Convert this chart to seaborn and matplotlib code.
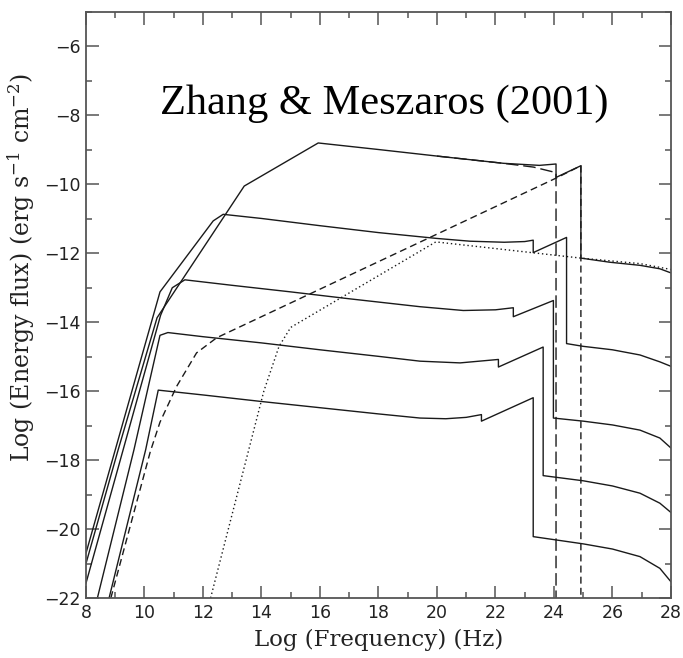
import numpy as np
import matplotlib
matplotlib.use("Agg")
import matplotlib.pyplot as plt
from matplotlib.ticker import MultipleLocator
import seaborn as sns

# --- data (log nu, log nuF_nu) ---
# total spectra, one per parameter set (top to bottom)
x1 = [8.0, 9.1, 10.43, 13.41, 15.94, 18.0, 20.0, 22.27, 23.5, 24.07, 24.07, 24.92, 24.92, 25.91, 26.94, 27.62, 28.0]
y1 = [-21.0, -17.7, -13.87, -10.05, -8.8, -8.99, -9.18, -9.39, -9.45, -9.41, -9.8, -9.46, -12.14, -12.26, -12.35, -12.45, -12.57]

x2 = [8.0, 10.53, 12.35, 12.69, 14.0, 16.0, 18.0, 20.0, 21.13, 22.3, 23.0, 23.29, 23.29, 24.43, 24.43, 25.0, 26.0, 26.94, 27.62, 28.0]
y2 = [-20.7, -13.12, -11.06, -10.87, -10.99, -11.2, -11.4, -11.57, -11.65, -11.68, -11.66, -11.62, -11.98, -11.54, -14.62, -14.7, -14.8, -14.95, -15.15, -15.28]

x3 = [8.0, 10.55, 10.95, 11.38, 13.0, 15.0, 17.0, 19.42, 20.9, 22.0, 22.61, 22.61, 23.98, 23.98, 25.0, 26.0, 26.94, 27.62, 28.0]
y3 = [-21.57, -13.8, -13.0, -12.77, -12.93, -13.12, -13.32, -13.55, -13.66, -13.64, -13.58, -13.84, -13.37, -16.78, -16.87, -16.98, -17.13, -17.36, -17.65]

x4 = [8.39, 9.64, 10.53, 10.8, 12.0, 14.0, 16.0, 18.0, 19.42, 20.79, 22.1, 22.1, 23.63, 23.63, 25.0, 26.0, 26.94, 27.62, 28.0]
y4 = [-22.0, -17.7, -14.38, -14.3, -14.42, -14.6, -14.8, -14.99, -15.13, -15.18, -15.08, -15.3, -14.72, -18.45, -18.6, -18.75, -18.96, -19.25, -19.52]

x5 = [8.79, 10.04, 10.47, 12.0, 14.0, 16.0, 18.0, 19.42, 20.3, 21.0, 21.52, 21.52, 23.29, 23.29, 25.0, 26.0, 26.94, 27.62, 28.0]
y5 = [-22.0, -17.7, -15.97, -16.11, -16.3, -16.48, -16.66, -16.78, -16.8, -16.76, -16.68, -16.87, -16.19, -20.22, -20.43, -20.58, -20.8, -21.14, -21.53]

# components of the top spectrum
x_syn = [20.0, 22.27, 23.3, 24.07, 24.07]
y_syn = [-9.18, -9.39, -9.5, -9.66, -22.0]

x_ic = [8.85, 10.2, 10.53, 11.1, 11.78, 12.47, 24.07, 24.92, 24.92]
y_ic = [-22.0, -17.75, -16.9, -15.86, -14.89, -14.45, -9.82, -9.46, -22.0]

x_dot = [12.26, 13.2, 14.08, 14.6, 15.0, 15.6, 19.96, 24.92, 26.94, 28.0]
y_dot = [-22.0, -18.9, -16.0, -14.7, -14.15, -13.85, -11.67, -12.14, -12.3, -12.47]

title_text = "Zhang & Meszaros (2001)"

# --- style ---
sns.set_style("ticks")
plt.rcParams['font.family'] = ['DejaVu Sans']
plt.rcParams['mathtext.fontset'] = 'dejavuserif'

ink = '#1a1a1a'
axc = '#555555'

fig = plt.figure(figsize=(6.83, 6.58), dpi=100)
ax = fig.add_axes([0.1259, 0.0912, 0.8565, 0.8906])

# solid total spectra
for xs, ys in [(x1, y1), (x2, y2), (x3, y3), (x4, y4), (x5, y5)]:
    sns.lineplot(x=xs, y=ys, sort=False, estimator=None, color=ink, lw=1.0, ax=ax)

# components
sns.lineplot(x=x_syn, y=y_syn, sort=False, estimator=None, color=ink, lw=1.0,
             linestyle=(0, (9, 3.5)), ax=ax)
sns.lineplot(x=x_ic, y=y_ic, sort=False, estimator=None, color=ink, lw=1.0,
             linestyle=(0, (5, 3)), ax=ax)
sns.lineplot(x=x_dot, y=y_dot, sort=False, estimator=None, color=ink, lw=1.0,
             linestyle=(0, (1, 2)), ax=ax)

ax.set_xlim(8, 28)
ax.set_ylim(-22, -5)
ax.xaxis.set_major_locator(MultipleLocator(2))
ax.xaxis.set_minor_locator(MultipleLocator(1))
ax.yaxis.set_major_locator(MultipleLocator(2))
ax.yaxis.set_minor_locator(MultipleLocator(1))
ax.tick_params(which='both', direction='in', top=True, right=True, color=axc, width=1.1)
ax.tick_params(which='major', length=9, labelsize=12.5, labelcolor='#222222', pad=4)
ax.tick_params(which='minor', length=4.5)
for sp in ax.spines.values():
    sp.set_color(axc)
    sp.set_linewidth(1.3)

ax.set_xlabel("Log (Frequency) (Hz)", family='DejaVu Serif', fontsize=16.5, color='#222222', labelpad=5)
ax.set_ylabel(r"Log (Energy flux) (erg s$^{-1}$ cm$^{-2}$)", family='DejaVu Serif', fontsize=17,
              color='#222222')
ax.yaxis.set_label_coords(-0.084, 0.565)

ax.text(18.2, -7.95, title_text, family='Liberation Serif', fontsize=30.5, color='black',
        ha='center', va='baseline')

fig.savefig("out.png", dpi=100)
